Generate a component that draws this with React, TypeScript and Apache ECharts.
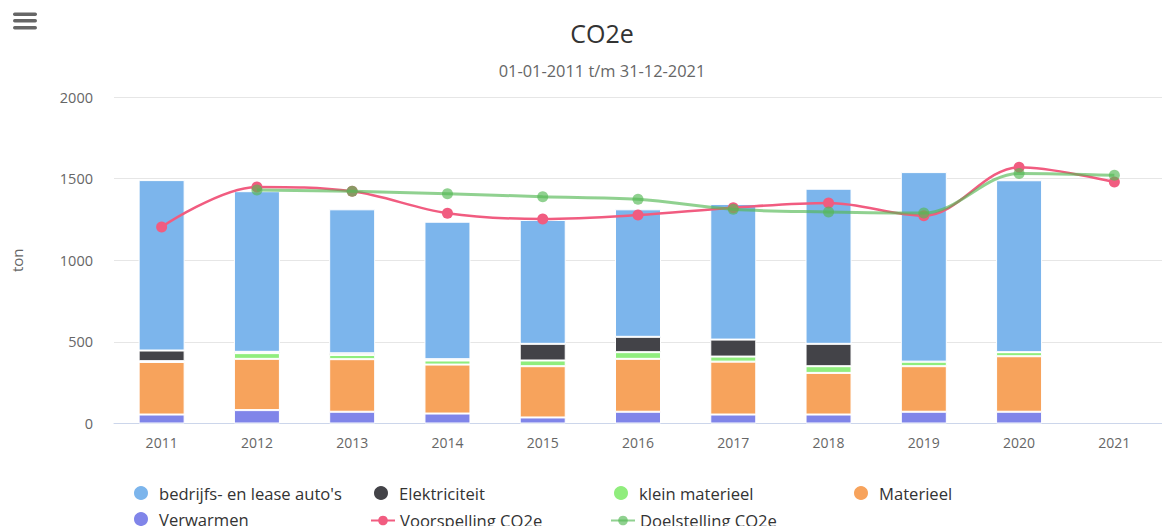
import React, { useEffect, useRef } from "react";
import * as echarts from "echarts";

const categories = ["2011", "2012", "2013", "2014", "2015", "2016", "2017", "2018", "2019", "2020", "2021"];
const bedrijfs = [1044, 984, 882, 842, 759, 781, 831, 950, 1161, 1053, null];
const elektriciteit = [65, 8, 10, 8, 102, 94, 104, 137, 0, 0, null];
const kleinMaterieel = [5, 35, 26, 25, 35, 41, 31, 41, 28, 25, null];
const materieel = [322, 314, 322, 300, 314, 324, 324, 255, 279, 340, null];
const verwarmen = [55, 82, 72, 61, 37, 72, 55, 55, 72, 72, null];
const voorspelling = [1204, 1449, 1422, 1288, 1253, 1277, 1322, 1351, 1273, 1569, 1479];
const doelstelling = [null, 1430, 1422, 1408, 1389, 1373, 1312, 1296, 1289, 1532, 1520];
const yTicks = { min: 0, max: 2000, interval: 500 };

const names = {
  bedrijfs: "bedrijfs- en lease auto's",
  elek: "Elektriciteit",
  klein: "klein materieel",
  mat: "Materieel",
  verw: "Verwarmen",
  voor: "Voorspelling CO2e",
  doel: "Doelstelling CO2e",
};

export default function App() {
  const ref = useRef<HTMLDivElement>(null);
  useEffect(() => {
    if (!ref.current) return;
    const chart = echarts.init(ref.current, null, { renderer: "svg" });
    const barBase = {
      type: "bar",
      stack: "total",
      barWidth: 46,
      itemStyle: { borderColor: "#ffffff", borderWidth: 1 },
    };
    const legendText = { fontSize: 16.6, color: "#333333", fontFamily: "Open Sans" };
    const circleLegend = (name: string, left: number, top: number) => ({
      data: [name],
      left,
      top,
      icon: "circle",
      itemWidth: 26,
      itemHeight: 16,
      padding: 0,
      textStyle: legendText,
    });
    const lineLegend = (name: string, left: number, top: number) => ({
      data: [name],
      left,
      top,
      itemWidth: 24,
      itemHeight: 12,
      padding: 0,
      textStyle: legendText,
    });
    chart.setOption({
      animation: false,
      textStyle: { fontFamily: "Open Sans" },
      title: [
        {
          text: "CO2e",
          left: 597,
          textAlign: "center",
          top: 15,
          textStyle: { fontSize: 25, fontWeight: "normal", color: "#333333", fontFamily: "Open Sans" },
        },
        {
          text: "01-01-2011 t/m 31-12-2021",
          left: 597,
          textAlign: "center",
          top: 57,
          textStyle: { fontSize: 16.4, fontWeight: "normal", color: "#666666", fontFamily: "Open Sans" },
        },
      ],
      legend: [
        circleLegend(names.bedrijfs, 132, 484),
        circleLegend(names.elek, 372, 484),
        circleLegend(names.klein, 612, 484),
        circleLegend(names.mat, 852, 484),
        circleLegend(names.verw, 132, 510),
        lineLegend(names.voor, 370, 512),
        lineLegend(names.doel, 610, 512),
      ],
      grid: { left: 114, top: 97, width: 1059, height: 326.5 },
      xAxis: {
        type: "category",
        data: categories,
        axisLine: { lineStyle: { color: "#ccd6eb" } },
        axisTick: { show: false },
        axisLabel: { color: "#666666", fontSize: 14, margin: 12 },
      },
      yAxis: {
        type: "value",
        min: yTicks.min,
        max: yTicks.max,
        interval: yTicks.interval,
        name: "ton",
        nameLocation: "middle",
        nameRotate: 90,
        nameGap: 90,
        nameTextStyle: { color: "#666666", fontSize: 15 },
        axisLabel: { color: "#666666", fontSize: 14.5, margin: 21, formatter: (v: number) => String(v) },
        splitLine: { lineStyle: { color: "#e6e6e6" } },
        axisLine: { show: false },
        axisTick: { show: false },
      },
      series: [
        { ...barBase, name: names.verw, data: verwarmen, color: "#8085e9" },
        { ...barBase, name: names.mat, data: materieel, color: "#f7a35c" },
        { ...barBase, name: names.klein, data: kleinMaterieel, color: "#90ed7d" },
        { ...barBase, name: names.elek, data: elektriciteit, color: "#434348" },
        { ...barBase, name: names.bedrijfs, data: bedrijfs, color: "#7cb5ec" },
        {
          type: "line",
          name: names.voor,
          data: voorspelling,
          smooth: 0.35,
          color: "#f15c80",
          symbol: "circle",
          symbolSize: 11,
          lineStyle: { width: 2.5, color: "#f15c80" },
          itemStyle: { color: "#f15c80" },
          z: 3,
        },
        {
          type: "line",
          name: names.doel,
          data: doelstelling,
          smooth: 0.35,
          color: "rgba(84,184,84,0.65)",
          symbol: "circle",
          symbolSize: 11,
          lineStyle: { width: 3, color: "rgba(84,184,84,0.65)" },
          itemStyle: { color: "rgba(84,184,84,0.65)" },
          z: 4,
        },
      ],
      graphic: [
        { type: "rect", left: 13, top: 12.5, shape: { width: 24, height: 3.5, r: 1.7 }, style: { fill: "#666666" } },
        { type: "rect", left: 13, top: 19, shape: { width: 24, height: 3.5, r: 1.7 }, style: { fill: "#666666" } },
        { type: "rect", left: 13, top: 26, shape: { width: 24, height: 3.5, r: 1.7 }, style: { fill: "#666666" } },
      ],
    });
    return () => chart.dispose();
  }, []);
  return (
    <div
      ref={ref}
      style={{ position: "absolute", left: 0, top: 0, width: 1162, height: 526, background: "#ffffff" }}
    />
  );
}
